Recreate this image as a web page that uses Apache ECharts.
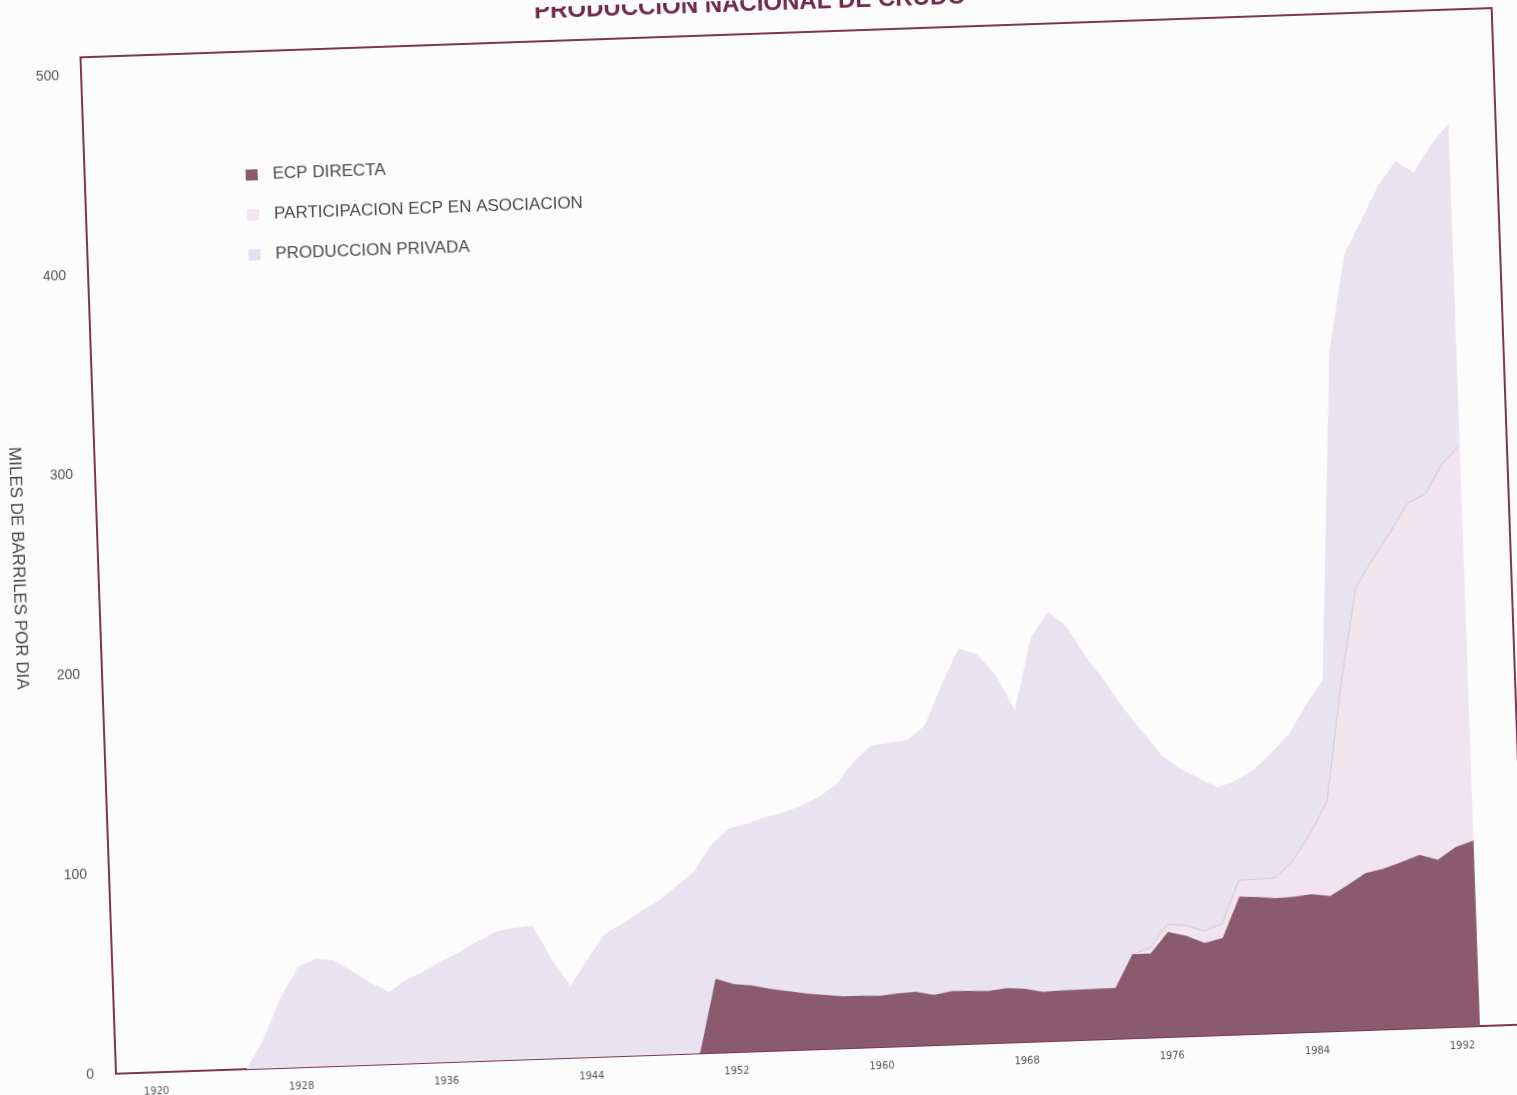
<!DOCTYPE html>
<html>
<head>
<meta charset="utf-8">
<title>Produccion nacional de crudo</title>
<script src="https://cdn.jsdelivr.net/npm/echarts@6/dist/echarts.min.js"></script>
<style>
  html, body { margin: 0; padding: 0; background: #fdfcfd; overflow: hidden; }
  #chart { width: 1517px; height: 1095px; transform: rotate(-2deg); transform-origin: 758px 547px; }
</style>
</head>
<body>
<div id="chart"></div>
<script>
// years 1925 - 1993, miles de barriles por dia
const years = [
  1925, 1926, 1927, 1928, 1929, 1930, 1931, 1932, 1933, 1934,
  1935, 1936, 1937, 1938, 1939, 1940, 1941, 1942, 1943, 1944,
  1945, 1946, 1947, 1948, 1949, 1950, 1951, 1952, 1953, 1954,
  1955, 1956, 1957, 1958, 1959, 1960, 1961, 1962, 1963, 1964,
  1965, 1966, 1967, 1968, 1969, 1970, 1971, 1972, 1973, 1974,
  1975, 1976, 1977, 1978, 1979, 1980, 1981, 1982, 1983, 1984,
  1985, 1986, 1987, 1988, 1989, 1990, 1991, 1992, 1993
];

const ecpDirecta = [
  null, null, null, null, null, null, null, null, null, null,
  null, null, null, null, null, null, null, null, null, null,
  null, null, null, null, null, 0, 37, 34, 33, 31,
  29.5, 28, 27, 26, 26, 25.6, 26.5, 27, 25.2, 26.8,
  26.5, 26.1, 27.3, 26.6, 24.8, 25.2, 25.3, 25.4, 25.4, 42,
  42, 52.5, 50.3, 46.4, 48.6, 69, 68.5, 67.6, 68, 69,
  67.7, 73, 78.6, 80.5, 83.5, 86.7, 84, 90, 93
];

const participacionAsociacion = [
  null, null, null, null, null, null, null, null, null, null,
  null, null, null, null, null, null, null, null, null, null,
  null, null, null, null, null, null, null, null, null, null,
  null, null, null, null, null, null, null, null, null, null,
  null, null, null, null, null, null, null, null, null, 0,
  3, 4, 5, 6, 7, 8, 9, 10, 18, 30,
  47, 100, 143, 155, 165, 176, 183, 192, 198
];

const produccionPrivada = [
  0, 15, 35, 50, 54, 53, 47, 41, 36, 42,
  46, 51, 55, 60, 64.5, 66, 67, 50, 36, 49,
  61.5, 66.5, 72, 77, 84, 91, 67, 78, 81, 86,
  89.5, 94, 99, 106, 117, 125.4, 125.5, 126, 134.8, 153.2,
  171.5, 168.9, 156.7, 139.4, 177.2, 189.8, 181.7, 166.6, 153.6, 123,
  108, 84.5, 78.7, 76.6, 68.4, 50, 54.5, 62.4, 63, 64,
  61.3, 167, 166.4, 169.5, 173.5, 171.3, 161, 160, 161
];

const yearTicks = [1920, 1928, 1936, 1944, 1952, 1960, 1968, 1976, 1984, 1992];
const seriesNames = ['ECP DIRECTA', 'PARTICIPACION ECP EN ASOCIACION', 'PRODUCCION PRIVADA'];

// value first so the stack runs on the y values
const pairs = (vals) => years.map((y, i) => [vals[i], y]);

const chart = echarts.init(document.getElementById('chart'));

const option = {
  animation: false,
  backgroundColor: '#fdfcfd',
  textStyle: { fontFamily: '"Liberation Sans", Arial, sans-serif' },
  title: {
    text: 'PRODUCCION NACIONAL DE CRUDO',
    left: 764,
    textAlign: 'center',
    top: -13,
    textStyle: { fontSize: 24, fontWeight: 'bold', color: '#6d2a4a' }
  },
  legend: {
    orient: 'vertical',
    left: 254,
    top: 144,
    itemWidth: 12,
    itemHeight: 11,
    itemGap: 23,
    icon: 'rect',
    textStyle: { fontSize: 17, color: '#4a4a4a', lineHeight: 17, padding: [0, 0, 0, 10] },
    data: seriesNames
  },
  grid: {
    show: true,
    left: 98,
    right: 7,
    top: 34,
    bottom: 44,
    borderColor: '#7d3553',
    borderWidth: 2,
    backgroundColor: 'transparent'
  },
  xAxis: {
    type: 'value',
    min: 1917.8,
    max: 1995.6,
    axisLine: { show: false },
    axisTick: { show: false },
    splitLine: { show: false },
    axisLabel: {
      customValues: yearTicks,
      formatter: (v) => String(v),
      margin: 14,
      fontSize: 11,
      color: '#555',
      fontFamily: '"Liberation Sans Narrow", "DejaVu Sans Condensed", sans-serif'
    }
  },
  yAxis: {
    type: 'value',
    min: 0,
    max: 509,
    interval: 100,
    name: 'MILES DE BARRILES POR DIA',
    nameLocation: 'middle',
    nameRotate: -90,
    nameGap: 72,
    nameTextStyle: { fontSize: 17, color: '#444' },
    axisLine: { show: false },
    axisTick: { show: false },
    splitLine: { show: false },
    axisLabel: { margin: 22, fontSize: 14, color: '#555', showMaxLabel: false }
  },
  series: [
    {
      name: seriesNames[0],
      type: 'line',
      stack: 'total',
      encode: { x: 1, y: 0 },
      symbol: 'none',
      z: 4,
      lineStyle: { width: 0 },
      itemStyle: { color: '#8a5a6f' },
      areaStyle: { color: '#8a5a6f', opacity: 1 },
      data: pairs(ecpDirecta)
    },
    {
      name: seriesNames[1],
      type: 'line',
      stack: 'total',
      encode: { x: 1, y: 0 },
      symbol: 'none',
      z: 3,
      lineStyle: { width: 1, color: '#b9a8bf', opacity: 0.55 },
      itemStyle: { color: '#f1e4ef' },
      areaStyle: { color: '#f1e4ef', opacity: 1 },
      data: pairs(participacionAsociacion)
    },
    {
      name: seriesNames[2],
      type: 'line',
      stack: 'total',
      encode: { x: 1, y: 0 },
      symbol: 'none',
      z: 2,
      lineStyle: { width: 0 },
      itemStyle: { color: '#e4dff1' },
      areaStyle: { color: '#e9e3f1', opacity: 1 },
      data: pairs(produccionPrivada)
    }
  ]
};

chart.setOption(option);
</script>
</body>
</html>
